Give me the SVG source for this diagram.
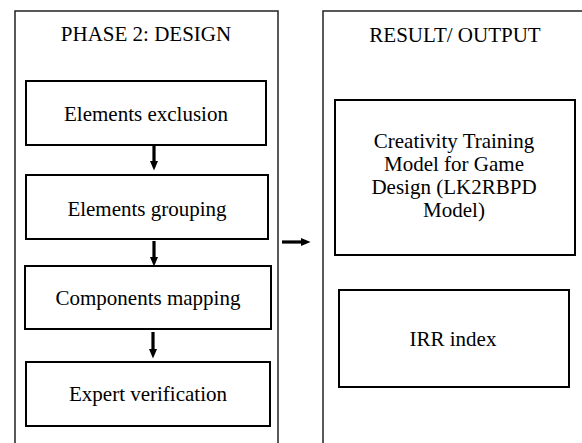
<svg xmlns="http://www.w3.org/2000/svg" width="582" height="443" viewBox="0 0 582 443">
<style>
.outer{fill:none;stroke:#222;stroke-width:1.5}
.box{fill:#fff;stroke:#000;stroke-width:2}
text{font-family:"Liberation Serif","Times New Roman","DejaVu Serif",serif;font-size:21px;fill:#000;text-anchor:middle}
.shaft{stroke:#000;stroke-width:3.2;fill:none}
</style>
<defs>
<marker id="ah" markerWidth="3" markerHeight="2.5" refX="0" refY="1.25" orient="auto" markerUnits="strokeWidth" viewBox="0 0 3 2.5">
<path d="M0,0 L3,1.25 L0,2.5 Z" fill="#000"/>
</marker>
</defs>
<g id="phase2">
<path class="outer" d="M15,450 V11 H278 V450"/>
<text x="146" y="41">PHASE 2: DESIGN</text>
</g>
<g id="result">
<path class="outer" d="M323,450 V11 H590"/>
<text x="455" y="42">RESULT/ OUTPUT</text>
</g>
<g id="n1">
<rect class="box" x="26" y="81" width="240" height="64"/>
<text x="146" y="121">Elements exclusion</text>
</g>
<g id="n2">
<rect class="box" x="26" y="175" width="242" height="64"/>
<text x="147" y="216">Elements grouping</text>
</g>
<g id="n3">
<rect class="box" x="25" y="266" width="246" height="63"/>
<text x="148" y="305">Components mapping</text>
</g>
<g id="n4">
<rect class="box" x="26" y="362" width="244" height="64"/>
<text x="148" y="401">Expert verification</text>
</g>
<g id="r1">
<rect class="box" x="335" y="100" width="240" height="155"/>
<text x="454" y="148">Creativity Training</text>
<text x="454" y="171">Model for Game</text>
<text x="454" y="194">Design (LK2RBPD</text>
<text x="454" y="217">Model)</text>
</g>
<g id="r2">
<rect class="box" x="339" y="290" width="230" height="97"/>
<text x="453" y="346">IRR index</text>
</g>
<g id="connectors">
<line class="shaft" x1="154" y1="146" x2="154" y2="161" marker-end="url(#ah)"/>
<line class="shaft" x1="154" y1="241" x2="154" y2="257" marker-end="url(#ah)"/>
<line class="shaft" x1="153" y1="332" x2="153" y2="349" marker-end="url(#ah)"/>
<line class="shaft" x1="282" y1="242" x2="301" y2="242" marker-end="url(#ah)"/>
</g>
</svg>
